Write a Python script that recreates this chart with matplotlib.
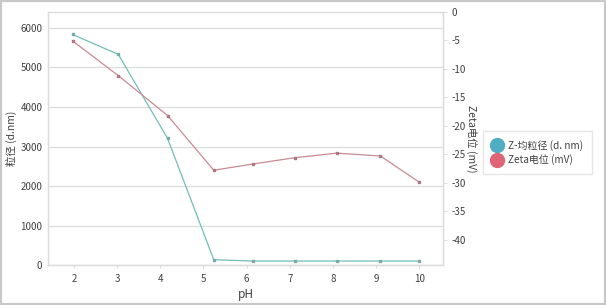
import matplotlib.pyplot as plt
from matplotlib.lines import Line2D
from matplotlib.patches import Rectangle

plt.rcParams['font.family'] = ['Noto Sans CJK SC', 'DejaVu Sans']
plt.rcParams['axes.unicode_minus'] = False

# pH 值
ph = [1.97, 3.03, 4.17, 5.24, 6.15, 7.12, 8.09, 9.10, 10.0]
# Z-均粒径 (d.nm)
size_nm = [5830, 5325, 3205, 142, 109, 109, 109, 109, 109]
# Zeta 电位 (mV)
zeta_mv = [-5.1, -11.2, -18.2, -27.8, -26.7, -25.6, -24.8, -25.3, -29.9]

c_size = '#72bdb9'
c_zeta = '#c98a93'
txt = '#404040'
grid = '#dcdcdc'

fig = plt.figure(figsize=(6.06, 3.05), dpi=100)
ax = fig.add_axes([0.0792, 0.130, 0.6518, 0.831])
ax2 = ax.twinx()

ax.plot(ph, size_nm, color=c_size, lw=0.9, marker='s', ms=1.8, mec='#7aa9a6', mfc='#7aa9a6', zorder=3)
ax2.plot(ph, zeta_mv, color=c_zeta, lw=0.9, marker='s', ms=1.8, mec='#b07583', mfc='#b07583', zorder=3)

ax.set_xlim(1.4, 10.55)
ax.set_ylim(0, 6400)
ax2.set_ylim(-44.5, 0)
ax.set_xticks(range(2, 11))
ax.set_yticks(range(0, 6001, 1000))
ax2.set_yticks(range(-40, 1, 5))

ax.grid(axis='y', color=grid, lw=0.9)
ax.set_axisbelow(True)
for a in (ax, ax2):
    for s in a.spines.values():
        s.set_color(grid)
        s.set_linewidth(0.9)
    a.tick_params(colors=txt, labelsize=7, length=0, pad=4)
ax2.tick_params(axis='y', length=3, color=grid, pad=3)
ax.tick_params(axis='x', length=2, color=grid)

ax.set_xlabel('pH', fontsize=8.5, color=txt, labelpad=3)
ax.set_ylabel('粒径 (d.nm)', fontsize=7.5, color=txt)
ax.yaxis.set_label_coords(-0.079, 0.5)
ax2.set_ylabel('Zeta电位 (mV)', fontsize=7.5, color=txt, rotation=270, va='center')
ax2.yaxis.set_label_coords(1.073, 0.5)

handles = [Line2D([], [], ls='none', marker='o', ms=10, color='#4faec4'),
           Line2D([], [], ls='none', marker='o', ms=10, color='#df6475')]
fig.legend(handles, ['Z-均粒径 (d. nm)', 'Zeta电位 (mV)'], loc='center left',
           bbox_to_anchor=(0.797, 0.50), fontsize=7.2, frameon=True,
           edgecolor='#e0e0e0', fancybox=False, handletextpad=0.6,
           labelspacing=0.35, borderpad=0.9, handlelength=1.0,
           borderaxespad=0, labelcolor=txt)

fig.patches.append(Rectangle((0, 0), 1, 1, transform=fig.transFigure,
                             fill=False, edgecolor='#c8c8c8', lw=3))

fig.savefig('out.png', dpi=100)
